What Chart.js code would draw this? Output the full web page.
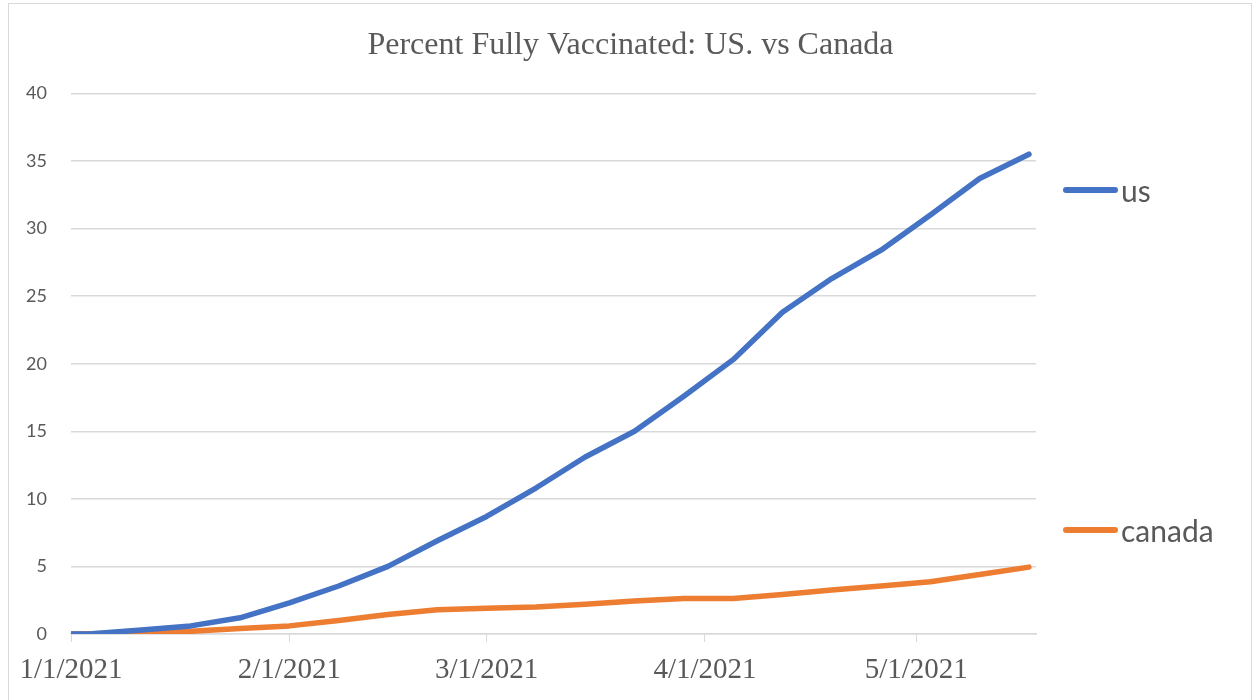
<!DOCTYPE html>
<html>
  <head>
    <title>Percent Fully Vaccinated</title>
    <script src="https://cdn.jsdelivr.net/npm/chart.js"></script>
    <style>
      body {
        margin: 0;
        background-color: #ffffff;
      }
      #wrap {
        position: relative;
        width: 1253px;
        height: 700px;
        overflow: hidden;
      }
      #frame {
        position: absolute;
        left: 8px;
        top: 3px;
        width: 1242px;
        height: 720px;
        border: 1px solid #d9d9d9;
      }
      #vaxChart {
        position: absolute;
        left: 0;
        top: 0;
      }
      .legend-item {
        position: absolute;
        left: 1063px;
        height: 30px;
        display: flex;
        align-items: center;
        font-family: Lato, sans-serif;
        font-size: 30px;
        color: #595959;
      }
      .legend-line {
        width: 55px;
        height: 6px;
        border-radius: 3px;
        margin-right: 3px;
      }
    </style>
  </head>
  <body>
    <div id="wrap">
      <div id="frame"></div>
      <canvas id="vaxChart" width="1253" height="700"></canvas>
      <div id="legend"></div>
    </div>

    <script>
      // days since 1/1/2021, weekly readings
      const days = [0, 3, 10, 17, 24, 31, 38, 45, 52, 59, 66, 73, 80, 87, 94, 101, 108, 115, 122, 129, 136];
      const usValues = [0, 0.02, 0.3, 0.6, 1.2, 2.3, 3.55, 5.0, 6.9, 8.7, 10.8, 13.1, 15.0, 17.6, 20.3, 23.8, 26.3, 28.4, 31.0, 33.7, 35.5];
      const canadaValues = [0, 0.02, 0.1, 0.2, 0.4, 0.6, 1.0, 1.45, 1.8, 1.9, 2.0, 2.2, 2.45, 2.62, 2.62, 2.93, 3.25, 3.55, 3.87, 4.4, 4.95];

      const seriesNames = ["us", "canada"];
      const tickDays = [0, 31, 59, 90, 120];
      const tickLabels = ["1/1/2021", "2/1/2021", "3/1/2021", "4/1/2021", "5/1/2021"];

      const legendTops = [175, 515]; // px, where excel put the legend entries

      const ctx = document.getElementById("vaxChart").getContext("2d");

      const vaxChart = new Chart(ctx, {
        type: "line",
        data: {
          datasets: [
            {
              label: seriesNames[0],
              data: days.map((d, i) => ({ x: d, y: usValues[i] })),
              borderColor: "#4472c4",
              borderWidth: 5.5,
              borderCapStyle: "round",
              borderJoinStyle: "round",
              pointRadius: 0,
              fill: false,
            },
            {
              label: seriesNames[1],
              data: days.map((d, i) => ({ x: d, y: canadaValues[i] })),
              borderColor: "#ed7d31",
              borderWidth: 5.5,
              borderCapStyle: "round",
              borderJoinStyle: "round",
              pointRadius: 0,
              fill: false,
            },
          ],
        },
        options: {
          responsive: false,
          animation: false,
          layout: {
            padding: { left: 8, right: 0, top: 0, bottom: 16 },
          },
          plugins: {
            legend: { display: false },
            tooltip: { enabled: false },
            title: {
              display: true,
              text: "Percent Fully Vaccinated: US. vs Canada",
              color: "#595959",
              font: { family: "Liberation Serif", size: 32, weight: "normal" },
              padding: { top: 26, bottom: 29 },
            },
          },
          scales: {
            x: {
              type: "linear",
              min: 0,
              max: 137,
              afterBuildTicks: (scale) => {
                scale.ticks = tickDays.map((v) => ({ value: v }));
              },
              afterFit: (scale) => {
                scale.height = 50;
              },
              ticks: {
                autoSkip: false,
                maxRotation: 0,
                padding: 11,
                color: "#595959",
                font: { family: "Liberation Serif", size: 29 },
                callback: (value, index) => tickLabels[index],
              },
              grid: {
                drawOnChartArea: false,
                drawTicks: true,
                tickLength: 8,
                color: "#d9d9d9",
              },
              border: { color: "#d9d9d9", width: 1.5 },
            },
            y: {
              min: 0,
              max: 40,
              afterFit: (scale) => {
                scale.width = 63;
              },
              ticks: {
                stepSize: 5,
                padding: 24,
                color: "#595959",
                font: { family: "Lato", size: 18 },
              },
              grid: { color: "#d9d9d9", lineWidth: 1.5, drawTicks: false },
              border: { display: false },
            },
            // empty axis on the right, leaves room for the legend
            yRight: {
              position: "right",
              min: 0,
              max: 40,
              afterFit: (scale) => {
                scale.width = 217;
              },
              ticks: { display: false },
              grid: { drawOnChartArea: false, drawTicks: false },
              border: { display: false },
            },
          },
        },
      });

      // legend drawn outside the canvas, excel style
      const legendBox = document.getElementById("legend");
      vaxChart.data.datasets.forEach((ds, i) => {
        const item = document.createElement("div");
        item.className = "legend-item";
        item.style.top = legendTops[i] + "px";
        item.innerHTML =
          '<span class="legend-line" style="background:' + ds.borderColor + '"></span>' + ds.label;
        legendBox.appendChild(item);
      });
    </script>
  </body>
</html>
